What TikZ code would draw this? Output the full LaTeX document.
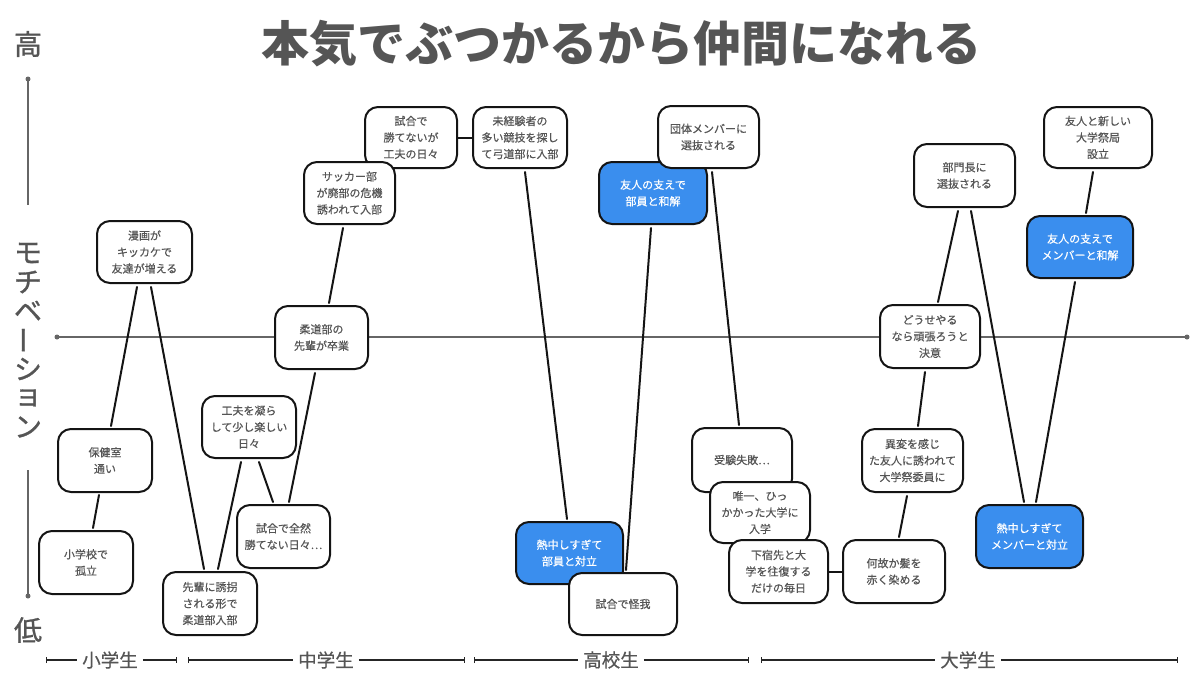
\documentclass[tikz,border=0pt]{standalone}
\usepackage{fontspec}
\newfontfamily\cjk{Noto Sans CJK JP}
\newfontfamily\cjkm[FakeBold=0.5]{Noto Sans CJK JP}
\newfontfamily\cjkh[FakeBold=1.0]{Noto Sans CJK JP}
\usetikzlibrary{arrows.meta,calc}
\definecolor{txt}{HTML}{555555}
\definecolor{blu}{HTML}{3A8EEE}
\definecolor{axisgray}{HTML}{666666}
\begin{document}
\begin{tikzpicture}[x=1pt,y=-1pt,
  box/.style={draw=black!92, line width=2pt, rounded corners=13pt, fill=white, align=center, text=txt,
    font=\cjkm\fontsize{11}{16.5}\selectfont, inner sep=0pt},
  bbox/.style={box, fill=blu, text=white},
  sz/.style n args={2}{minimum width=#1, minimum height=#2},
  link/.style={draw=black!92, line width=2pt, line cap=round},
  axlab/.style={text=txt, font=\cjkh\fontsize{28}{28}\selectfont, inner sep=0pt},
  axisline/.style={draw=axisgray, line width=2.4pt},
  dot/.style={circle, fill=axisgray, inner sep=0pt, minimum size=5pt},
  tlab/.style={text=txt, font=\cjkm\fontsize{18.5}{18.5}\selectfont, inner sep=5pt},
  tline/.style={draw=black!85, line width=1.1pt},
]
\useasboundingbox (0,0) rectangle (1200,675);
\fill[white] (0,0) rectangle (1200,675);

% title
\node[text=txt, font=\cjk\bfseries\fontsize{48}{48}\selectfont, inner sep=0pt] (title) at (621,44) {本気でぶつかるから仲間になれる};

% vertical axis labels
\node[axlab] (hi) at (28,44) {高};
\node[axlab] (lo) at (28,630) {低};
\node[axlab] (m1) at (28,253) {モ};
\node[axlab] (m2) at (28,282) {チ};
\node[axlab] (m3) at (28,311) {ベ};
\node[axlab, rotate=90] (m4) at (28,340) {ー};
\node[axlab] (m5) at (28,369) {シ};
\node[axlab] (m6) at (28,398) {ョ};
\node[axlab] (m7) at (28,427) {ン};
\node[dot] (vt) at (28,79) {};
\coordinate (vb) at (28,205);
\coordinate (vt2) at (28,470);
\node[dot] (vb2) at (28,596) {};
\draw[axisline] (vt.center) -- (vb);
\draw[axisline] (vt2) -- (vb2.center);

% horizontal axis
\node[dot] (hl) at (57,337) {};
\node[dot] (hr) at (1187,337) {};
\draw[axisline] (hl.center) -- (hr.center);

% boxes
\node[box, sz={95pt}{62pt}] (n1) at (144.5,252) {漫画が\\キッカケで\\友達が増える};
\node[box, sz={92pt}{61pt}] (n3) at (411,137.5) {試合で\\勝てないが\\工夫の日々};
\node[box, sz={91pt}{62pt}] (n2) at (349.5,193) {サッカー部\\が廃部の危機\\誘われて入部};
\node[box, sz={94pt}{61pt}] (n4) at (520,137.5) {未経験者の\\多い競技を探し\\て弓道部に入部};
\node[bbox, sz={108pt}{62pt}] (n6) at (653,193) {友人の支えで\\部員と和解};
\node[box, sz={101pt}{62pt}] (n5) at (708.5,137) {団体メンバーに\\選抜される};
\node[box, sz={101pt}{63pt}] (n7) at (964.5,175.5) {部門長に\\選抜される};
\node[box, sz={108pt}{61pt}] (n8) at (1098,137.5) {友人と新しい\\大学祭局\\設立};
\node[bbox, sz={106pt}{62pt}] (n9) at (1080,247) {友人の支えで\\メンバーと和解};
\node[box, sz={93pt}{63pt}] (n10) at (321.5,337.5) {柔道部の\\先輩が卒業};
\node[box, sz={100pt}{63pt}] (n11) at (930,336.5) {どうせやる\\なら頑張ろうと\\決意};
\node[box, sz={94pt}{63pt}] (n12) at (105,460.5) {保健室\\通い};
\node[box, sz={94pt}{63pt}] (n13) at (86,562.5) {小学校で\\孤立};
\node[box, sz={94pt}{63pt}] (n14) at (210,603.5) {先輩に誘拐\\される形で\\柔道部入部};
\node[box, sz={94pt}{62pt}] (n15) at (249,427) {工夫を凝ら\\して少し楽しい\\日々};
\node[box, sz={93pt}{63pt}] (n16) at (283.5,536.5) {試合で全然\\勝てない日々…};
\node[bbox, sz={107pt}{62pt}] (n17) at (569.5,553) {熱中しすぎて\\部員と対立};
\node[box, sz={108pt}{62pt}] (n18) at (623,604) {試合で怪我};
\node[box, sz={100pt}{64pt}] (n19) at (742,460) {受験失敗…};
\node[box, sz={100pt}{61pt}] (n20) at (760,512.5) {唯一、ひっ\\かかった大学に\\入学};
\node[box, sz={99pt}{63pt}] (n21) at (778.5,571.5) {下宿先と大\\学を往復する\\だけの毎日};
\node[box, sz={102pt}{63pt}] (n22) at (894,571.5) {何故か髪を\\赤く染める};
\node[box, sz={101pt}{63pt}] (n23) at (912.5,460.5) {異変を感じ\\た友人に誘われて\\大学祭委員に};
\node[bbox, sz={107pt}{63pt}] (n24) at (1029.5,536.5) {熱中しすぎて\\メンバーと対立};

% connectors
\draw[link] ([xshift=7pt,yshift=2pt]n13.north) -- ([xshift=-6pt,yshift=-2pt]n12.south);
\draw[link] ([xshift=6pt,yshift=2pt]n12.north) -- ([xshift=-7.5pt,yshift=-3pt]n1.south);
\draw[link] ([xshift=6.5pt,yshift=-3pt]n1.south) -- ([xshift=-6pt,yshift=2pt]n14.north);
\draw[link] ([xshift=8pt,yshift=2pt]n14.north) -- ([xshift=-8pt,yshift=-3pt]n15.south);
\draw[link] ([xshift=10pt,yshift=-3pt]n15.south) -- ([xshift=-10.5pt,yshift=2pt]n16.north);
\draw[link] ([xshift=5.5pt,yshift=2pt]n16.north) -- ([xshift=-6.5pt,yshift=-3pt]n10.south);
\draw[link] ([xshift=7.5pt,yshift=2pt]n10.north) -- ([xshift=-6.5pt,yshift=-3pt]n2.south);
\draw[link] (n3.east) -- (n4.west);
\draw[link] ([xshift=5pt,yshift=-3pt]n4.south) -- ([xshift=-2.5pt,yshift=2pt]n17.north);
\draw[link] ([xshift=3pt,yshift=2pt]n18.north) -- ([xshift=-2pt,yshift=-3pt]n6.south);
\draw[link] ([xshift=3.5pt,yshift=-3pt]n5.south) -- ([xshift=-3pt,yshift=2pt]n19.north);
\draw[link] (n21.east) -- (n22.west);
\draw[link] ([xshift=5pt,yshift=2pt]n22.north) -- ([xshift=-5.5pt,yshift=-3pt]n23.south);
\draw[link] ([xshift=5.5pt,yshift=2pt]n23.north) -- ([xshift=-5pt,yshift=-3pt]n11.south);
\draw[link] ([xshift=8pt,yshift=2pt]n11.north) -- ([xshift=-6.5pt,yshift=-3pt]n7.south);
\draw[link] ([xshift=6.5pt,yshift=-3pt]n7.south) -- ([xshift=-5.5pt,yshift=2pt]n24.north);
\draw[link] ([xshift=6.5pt,yshift=2pt]n24.north) -- ([xshift=-5pt,yshift=-3pt]n9.south);
\draw[link] ([xshift=6pt,yshift=2pt]n9.north) -- ([xshift=-5pt,yshift=-3pt]n8.south);

% timeline
\node[tlab] (e1) at (110,660) {小学生};
\node[tlab] (e2) at (326,660) {中学生};
\node[tlab] (e3) at (611,660) {高校生};
\node[tlab] (e4) at (968,660) {大学生};
\coordinate (e1a) at (46,660);  \coordinate (e1b) at (177,660);
\coordinate (e2a) at (188,660); \coordinate (e2b) at (465,660);
\coordinate (e3a) at (474,660); \coordinate (e3b) at (749,660);
\coordinate (e4a) at (761,660); \coordinate (e4b) at (1178,660);
\foreach \i in {1,2,3,4}{
  \draw[tline, {Bar[width=6pt,line width=1.1pt]}-] (e\i a) -- (e\i.west);
  \draw[tline, -{Bar[width=6pt,line width=1.1pt]}] (e\i.east) -- (e\i b);
}
\end{tikzpicture}
\end{document}
